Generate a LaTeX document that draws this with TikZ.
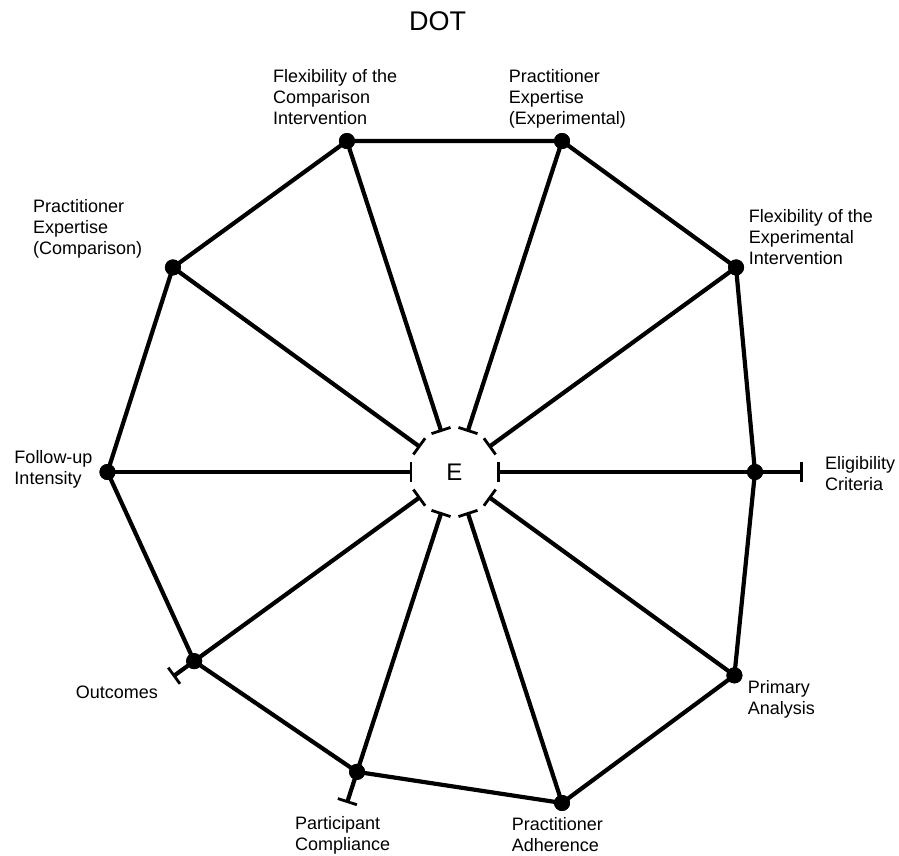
\documentclass[tikz,border=0pt]{standalone}
\usepackage{fontspec}
\setmainfont{Liberation Sans}
\usetikzlibrary{arrows.meta,positioning,calc}

\begin{document}
\begin{tikzpicture}[
    x=1pt, y=1pt,
    spoke/.style={line width=4.2pt},
    rim/.style={line width=4.2pt, line join=round},
    dot/.style={circle, fill=black, inner sep=0pt, minimum size=16pt},
    inbar/.style={{Bar[width=20pt,line width=2.8pt]}-},
    bothbar/.style={{Bar[width=20pt,line width=2.8pt]}-{Bar[width=20pt,line width=2.8pt]}},
    lab/.style={anchor=north west, inner sep=0pt, align=left, font=\fontsize{18}{21}\selectfont}
]
    \useasboundingbox (-454.5,-383) rectangle (444.5,472);

    % Title and centre
    \node[anchor=north, inner sep=0pt, font=\fontsize{27}{30}\selectfont] (title) at (-16.8,461) {DOT};
    \node[circle, inner sep=0pt, minimum size=84pt, font=\fontsize{24}{28}\selectfont] (ctr) at (0,0) {E};

    % Spokes
    \foreach \i/\ang/\r/\tips in {0/0/300.5/bothbar, 1/36/348/inbar, 2/72/348/inbar, 3/108/348/inbar,
        4/144/348/inbar, 5/180/347/inbar, 6/216/321.8/bothbar, 7/252/315.3/bothbar, 8/288/348/inbar, 9/324/346/inbar} {
        \coordinate (o\i) at (\ang:348);
        \draw[spoke, \tips] (ctr) -- (o\i);
        \node[dot] (p\i) at (\ang:\r) {};
    }

    % Rim
    \draw[rim] (p0.center) -- (p1.center) -- (p2.center) -- (p3.center) -- (p4.center) -- (p5.center)
        -- (p6.center) -- (p7.center) -- (p8.center) -- (p9.center) -- cycle;
    \foreach \i in {0,...,9} \fill (p\i) circle (8);

    % Labels
    \node[lab] (lelig) at (370.5,15.3) {Eligibility\\Criteria};
    \node[lab] (lflexexp) at (294.2,263) {Flexibility of the\\Experimental\\Intervention};
    \node[lab] (lpexp) at (54.2,403) {Practitioner\\Expertise\\(Experimental)};
    \node[lab] (lflexcmp) at (-181.5,403) {Flexibility of the\\Comparison\\Intervention};
    \node[lab] (lpcmp) at (-421.5,273) {Practitioner\\Expertise\\(Comparison)};
    \node[lab] (lfollow) at (-440.2,21.3) {Follow-up\\Intensity};
    \node[lab] (lout) at (-378.8,-213.7) {Outcomes};
    \node[lab] (lpart) at (-159.5,-344.7) {Participant\\Compliance};
    \node[lab] (ladh) at (57.2,-345.5) {Practitioner\\Adherence};
    \node[lab] (lprim) at (293.2,-208.7) {Primary\\Analysis};
\end{tikzpicture}
\end{document}
